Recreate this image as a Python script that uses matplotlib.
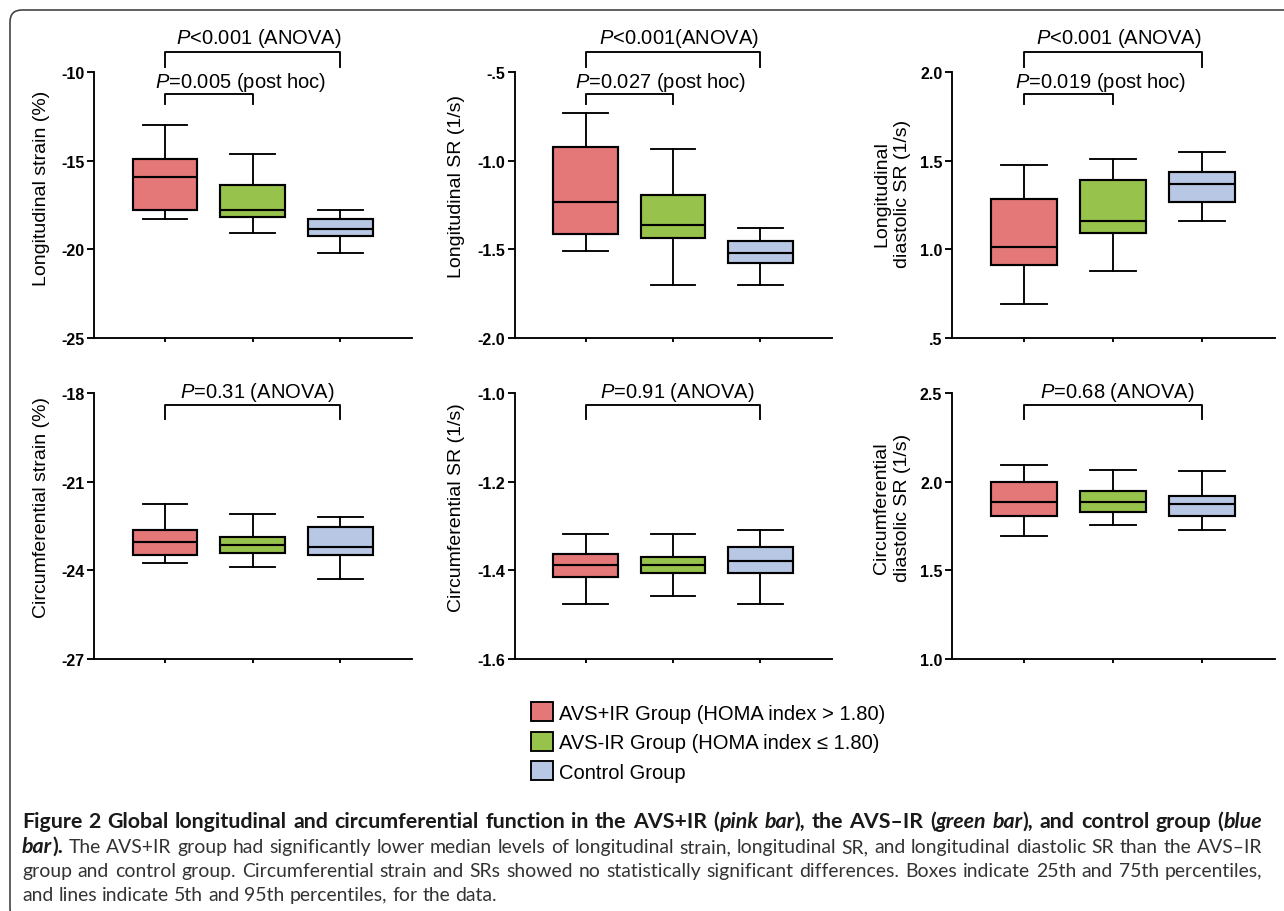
import matplotlib
matplotlib.use("Agg")
import matplotlib.pyplot as plt
from matplotlib.patches import Patch, FancyBboxPatch
from matplotlib.transforms import IdentityTransform

plt.rcParams['font.family'] = ['Liberation Sans', 'DejaVu Sans']
plt.rcParams['mathtext.fontset'] = 'custom'
plt.rcParams['mathtext.rm'] = 'Liberation Sans'
plt.rcParams['mathtext.it'] = 'Liberation Sans:italic'

# ---- data ----
groups = ["AVS+IR Group (HOMA index > 1.80)", "AVS-IR Group (HOMA index \u2264 1.80)", "Control Group"]
colors = ["#e47878", "#97c34d", "#b8c8e4"]

# longitudinal strain (%)
ls_lo = [-18.3, -19.1, -20.2]
ls_q1 = [-17.76, -18.2, -19.25]
ls_med = [-15.9, -17.8, -18.83]
ls_q3 = [-14.9, -16.4, -18.3]
ls_hi = [-13.0, -14.65, -17.76]

# longitudinal SR (1/s)
lsr_lo = [-1.51, -1.70, -1.70]
lsr_q1 = [-1.414, -1.434, -1.577]
lsr_med = [-1.231, -1.363, -1.519]
lsr_q3 = [-0.923, -1.194, -1.453]
lsr_hi = [-0.729, -0.934, -1.378]

# longitudinal diastolic SR (1/s)
ldsr_lo = [0.694, 0.878, 1.162]
ldsr_q1 = [0.910, 1.092, 1.269]
ldsr_med = [1.015, 1.162, 1.370]
ldsr_q3 = [1.284, 1.391, 1.438]
ldsr_hi = [1.477, 1.509, 1.549]

# circumferential strain (%)
cs_lo = [-23.74, -23.88, -24.31]
cs_q1 = [-23.48, -23.43, -23.48]
cs_med = [-23.04, -23.13, -23.21]
cs_q3 = [-22.65, -22.87, -22.53]
cs_hi = [-21.77, -22.11, -22.2]

# circumferential SR (1/s)
csr_lo = [-1.477, -1.459, -1.477]
csr_q1 = [-1.415, -1.407, -1.407]
csr_med = [-1.388, -1.387, -1.379]
csr_q3 = [-1.363, -1.370, -1.347]
csr_hi = [-1.319, -1.319, -1.310]

# circumferential diastolic SR (1/s)
cdsr_lo = [1.691, 1.757, 1.730]
cdsr_q1 = [1.807, 1.830, 1.807]
cdsr_med = [1.886, 1.886, 1.875]
cdsr_q3 = [2.0, 1.948, 1.919]
cdsr_hi = [2.094, 2.066, 2.062]

ls_ticks = [-25, -20, -15, -10]
ls_ticklabels = ["-25", "-20", "-15", "-10"]
lsr_ticks = [-2.0, -1.5, -1.0, -0.5]
lsr_ticklabels = ["-2.0", "-1.5", "-1.0", "-.5"]
ldsr_ticks = [0.5, 1.0, 1.5, 2.0]
ldsr_ticklabels = [".5", "1.0", "1.5", "2.0"]
cs_ticks = [-27, -24, -21, -18]
cs_ticklabels = ["-27", "-24", "-21", "-18"]
csr_ticks = [-1.6, -1.4, -1.2, -1.0]
csr_ticklabels = ["-1.6", "-1.4", "-1.2", "-1.0"]
cdsr_ticks = [1.0, 1.5, 2.0, 2.5]
cdsr_ticklabels = ["1.0", "1.5", "2.0", "2.5"]

ylabels = ["Longitudinal strain (%)", "Longitudinal SR (1/s)", "Longitudinal\ndiastolic SR (1/s)",
           "Circumferential strain (%)", "Circumferential SR (1/s)", "Circumferential\ndiastolic SR (1/s)"]
anova_texts = ["$P$<0.001 (ANOVA)", "$P$<0.001(ANOVA)", "$P$<0.001 (ANOVA)",
               "$P$=0.31 (ANOVA)", "$P$=0.91 (ANOVA)", "$P$=0.68 (ANOVA)"]
posthoc_texts = ["$P$=0.005 (post hoc)", "$P$=0.027 (post hoc)", "$P$=0.019 (post hoc)"]

caption = [
    [("Figure 2 Global longitudinal and circumferential function in the AVS+IR (", "bold", "normal"),
     ("pink bar", "bold", "italic"), ("), the AVS\u2013IR (", "bold", "normal"),
     ("green bar", "bold", "italic"), ("), and control group (", "bold", "normal"),
     ("blue", "bold", "italic")],
    [("bar", "bold", "italic"), (").", "bold", "normal"),
     (" The AVS+IR group had significantly lower median levels of longitudinal strain, longitudinal SR, "
      "and longitudinal diastolic SR than the AVS\u2013IR", "normal", "normal")],
    [("group and control group. Circumferential strain and SRs showed no statistically significant "
      "differences. Boxes indicate 25th and 75th percentiles,", "normal", "normal")],
    [("and lines indicate 5th and 95th percentiles, for the data.", "normal", "normal")],
]

panels = [
    (ls_lo, ls_q1, ls_med, ls_q3, ls_hi, ls_ticks, ls_ticklabels),
    (lsr_lo, lsr_q1, lsr_med, lsr_q3, lsr_hi, lsr_ticks, lsr_ticklabels),
    (ldsr_lo, ldsr_q1, ldsr_med, ldsr_q3, ldsr_hi, ldsr_ticks, ldsr_ticklabels),
    (cs_lo, cs_q1, cs_med, cs_q3, cs_hi, cs_ticks, cs_ticklabels),
    (csr_lo, csr_q1, csr_med, csr_q3, csr_hi, csr_ticks, csr_ticklabels),
    (cdsr_lo, cdsr_q1, cdsr_med, cdsr_q3, cdsr_hi, cdsr_ticks, cdsr_ticklabels),
]

W, H = 1284, 912
fig = plt.figure(figsize=(W / 100, H / 100), dpi=100)

# axes boxes in pixels (left, right, top, bottom)
cols = [(94, 412), (515, 832), (952, 1275)]
rows = [(73, 339), (394, 660)]
# y label positions in pixels (right edge x, centre y)
label_pos = [(50, 188), (465, 186), (911, 194), (50, 508), (465, 508), (911, 508)]

positions = [1, 2, 3]
lw = 1.35

for i, (lo, q1, med, q3, hi, ticks, ticklabels) in enumerate(panels):
    r, c = divmod(i, 3)
    x0, x1 = cols[c]
    y0, y1 = rows[r]
    ax = fig.add_axes([x0 / W, 1 - y1 / H, (x1 - x0) / W, (y1 - y0) / H])
    stats = [dict(whislo=lo[k], q1=q1[k], med=med[k], q3=q3[k], whishi=hi[k]) for k in range(3)]
    bp = ax.bxp(stats, positions=positions, widths=0.74, capwidths=0.51, patch_artist=True,
                showfliers=False,
                boxprops=dict(linewidth=lw + 0.2, edgecolor='black'),
                medianprops=dict(color='black', linewidth=lw + 0.2),
                whiskerprops=dict(color='black', linewidth=lw),
                capprops=dict(color='black', linewidth=lw))
    for patch, col in zip(bp['boxes'], colors):
        patch.set_facecolor(col)

    ax.set_xlim(0.19, 3.82)
    ax.set_ylim(ticks[0], ticks[-1])
    ax.set_yticks(ticks)
    ax.set_yticklabels(ticklabels, fontsize=11.5, fontweight='bold')
    ax.set_xticks(positions)
    ax.set_xticklabels([])
    ax.tick_params(axis='y', direction='out', length=5, width=lw, pad=2)
    ax.tick_params(axis='x', direction='out', length=3, width=lw)
    for s in ['top', 'right']:
        ax.spines[s].set_visible(False)
    for s in ['left', 'bottom']:
        ax.spines[s].set_linewidth(lw)

    ax.set_ylabel(ylabels[i], fontsize=14, linespacing=1.3)
    lx, ly = label_pos[i]
    ax.yaxis.set_label_coords((lx - x0) / (x1 - x0), (y1 - ly) / (y1 - y0))

    tr = ax.get_xaxis_transform()
    if r == 0:
        # ANOVA bracket
        ax.plot([1, 1, 3, 3], [1.019, 1.075, 1.075, 1.019], color='black', lw=lw,
                transform=tr, clip_on=False)
        ax.text(2.07, 1.13, anova_texts[i], transform=tr, ha='center', va='center', fontsize=14.5)
        # post hoc bracket
        ax.plot([1, 1, 2, 2], [0.880, 0.917, 0.917, 0.880], color='black', lw=lw,
                transform=tr, clip_on=False)
        ax.text(1.86, 0.965, posthoc_texts[i], transform=tr, ha='center', va='center', fontsize=14.5)
    else:
        ax.plot([1, 1, 3, 3], [0.902, 0.955, 0.955, 0.902], color='black', lw=lw,
                transform=tr, clip_on=False)
        ax.text(2.05, 1.005, anova_texts[i], transform=tr, ha='center', va='center', fontsize=14.5)

# legend
handles = [Patch(facecolor=col, edgecolor='black', linewidth=lw) for col in colors]
fig.legend(handles, groups, loc='upper left', bbox_to_anchor=(531 / W, 1 - 703 / H),
           frameon=False, fontsize=14.5, handlelength=1.1, handleheight=1.1,
           handletextpad=0.3, labelspacing=0.45, borderpad=0, borderaxespad=0)

# outer rounded frame (top and left edges visible)
frame = FancyBboxPatch((10, -10), 1320, H - 11 + 10, boxstyle="round,pad=0,rounding_size=12",
                       transform=IdentityTransform(), facecolor='none', edgecolor='#444444',
                       linewidth=1.2)
fig.add_artist(frame)

# caption, justified word by word
renderer = fig.canvas.get_renderer()
cap_font = ['Lato', 'DejaVu Sans']
cap_x0, cap_x1 = 22, 1262
line_y = [822, 847, 871, 895]


def measure(txt, weight, style, size):
    t = fig.text(0, 0, txt, fontsize=size, fontweight=weight, fontstyle=style, family=cap_font,
                 transform=IdentityTransform())
    w = t.get_window_extent(renderer).width
    t.remove()
    return w


# plain size: third line fills the width; bold size: first line fills the width
w12 = measure(caption[2][0][0], 'normal', 'normal', 12)
plain_size = 12 * (cap_x1 - cap_x0) / w12 * 0.985
line1 = "".join(s[0] for s in caption[0])
wb12 = measure(line1, 'bold', 'normal', 12)
bold_size = 12 * (cap_x1 - cap_x0) / wb12 * 0.985

for li, segs in enumerate(caption):
    words = [[]]
    for txt, weight, style in segs:
        parts = txt.split(' ')
        for j, p in enumerate(parts):
            if j > 0:
                words.append([])
            if p:
                words[-1].append((p, weight, style))
    words = [w for w in words if w]
    sizes = [[bold_size if wt == 'bold' else plain_size for p, wt, st in w] for w in words]
    widths = [[measure(p, wt, st, sz) for (p, wt, st), sz in zip(w, ss)] for w, ss in zip(words, sizes)]
    total = sum(sum(ws) for ws in widths)
    if li < len(caption) - 1:
        gap = (cap_x1 - cap_x0 - total) / (len(words) - 1)
    else:
        gap = plain_size * 100 / 72 * 0.26
    x = cap_x0
    y = H - line_y[li] - 6
    for w, ws, ss in zip(words, widths, sizes):
        for (p, wt, st), pw, sz in zip(w, ws, ss):
            col = '#1a1a1a' if wt == 'bold' else '#333333'
            fig.text(x, y, p, fontsize=sz, fontweight=wt, fontstyle=st, family=cap_font,
                     color=col, va='baseline', ha='left', transform=IdentityTransform())
            x += pw
        x += gap

fig.savefig("out.png", dpi=100)
